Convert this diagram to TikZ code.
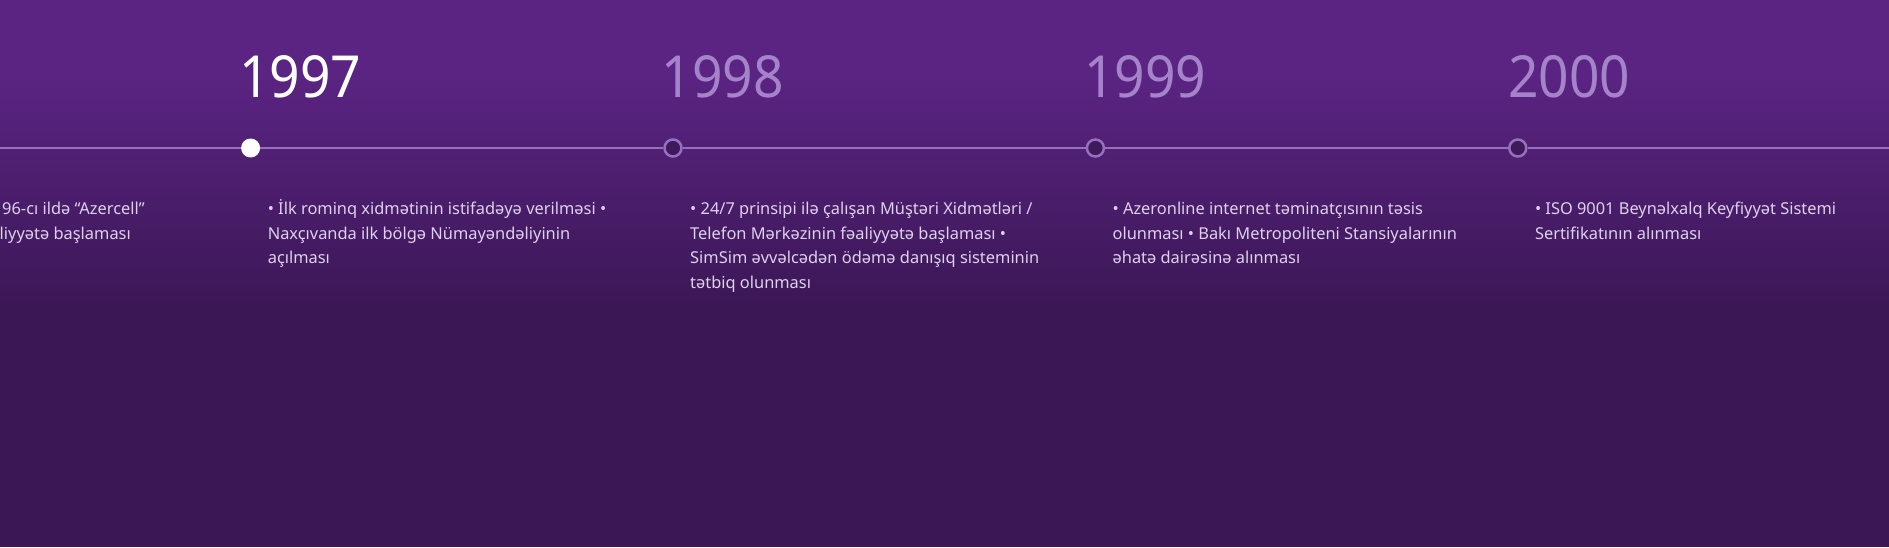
\documentclass[tikz,border=0pt]{standalone}
\usepackage{fontspec}
\setmainfont{Noto Sans}
\newfontfamily\yearfont[FakeStretch=0.92]{Noto Sans}
\definecolor{bgtop}{HTML}{5B2483}
\definecolor{bgbot}{HTML}{3B1755}
\definecolor{tline}{HTML}{9570BE}
\definecolor{yearoff}{HTML}{A583CB}
\definecolor{bodytxt}{HTML}{DDD2EA}
\definecolor{dotin}{HTML}{3E1A5C}
\tikzset{
  yearlbl/.style={anchor=base west, inner sep=0pt, text=yearoff, font=\yearfont\fontsize{58}{60}\selectfont},
  yearact/.style={yearlbl, text=white},
  bodylbl/.style={anchor=base west, inner sep=0pt, align=left, text=bodytxt, font=\fontsize{16.4}{24.5}\selectfont},
  cutlbl/.style={anchor=base east, inner sep=0pt, text=bodytxt, font=\fontsize{16.4}{24.5}\selectfont},
  dotoff/.style={circle, inner sep=0pt, minimum size=17pt, draw=tline, line width=2.5pt, fill=dotin},
  doton/.style={circle, inner sep=0pt, minimum size=19pt, fill=white},
  tl/.style={draw=tline, line width=2.8pt}
}
\begin{document}
\begin{tikzpicture}[x=1pt,y=-1pt]
\useasboundingbox (0,0) rectangle (1889,547);
\clip (0,0) rectangle (1889,547);
% background
\fill[bgtop] (0,0) rectangle (1889,71);
\shade[top color=bgtop, bottom color=bgbot] (0,70) rectangle (1889,311);
\fill[bgbot] (0,310) rectangle (1889,547);
% timeline dots
\coordinate (lstart) at (0,148);
\coordinate (lend) at (1889,148);
\node[doton]  (d1997) at (250.6,148) {};
\node[dotoff] (d1998) at (673,148) {};
\node[dotoff] (d1999) at (1095.4,148) {};
\node[dotoff] (d2000) at (1517.8,148) {};
\draw[tl] (lstart) -- (d1997) -- (d1998) -- (d1999) -- (d2000) -- (lend);
% years
\node[yearact] (y1997) at (239,97) {1997};
\node[yearlbl] (y1998) at (661.5,97) {1998};
\node[yearlbl] (y1999) at (1084,97) {1999};
\node[yearlbl] (y2000) at (1508,97) {2000};
% partially visible 1996 column
\node[cutlbl] (c1) at (145,214.5) {96-cı ildə “Azercell”};
\node[cutlbl] (c2) at (131,239) {liyyətə başlaması};
% descriptions (base anchor = last line's baseline)
\node[bodylbl] (t1997) at (267.6,263.5) {• İlk rominq xidmətinin istifadəyə verilməsi •\\Naxçıvanda ilk bölgə Nümayəndəliyinin\\açılması};
\node[bodylbl] (t1998) at (690,288) {• 24/7 prinsipi ilə çalışan Müştəri Xidmətləri /\\Telefon Mərkəzinin fəaliyyətə başlaması •\\SimSim əvvəlcədən ödəmə danışıq sisteminin\\tətbiq olunması};
\node[bodylbl] (t1999) at (1112.4,263.5) {• Azeronline internet təminatçısının təsis\\olunması • Bakı Metropoliteni Stansiyalarının\\əhatə dairəsinə alınması};
\node[bodylbl] (t2000) at (1534.8,239) {• ISO 9001 Beynəlxalq Keyfiyyət Sistemi\\Sertifikatının alınması};
\end{tikzpicture}
\end{document}
